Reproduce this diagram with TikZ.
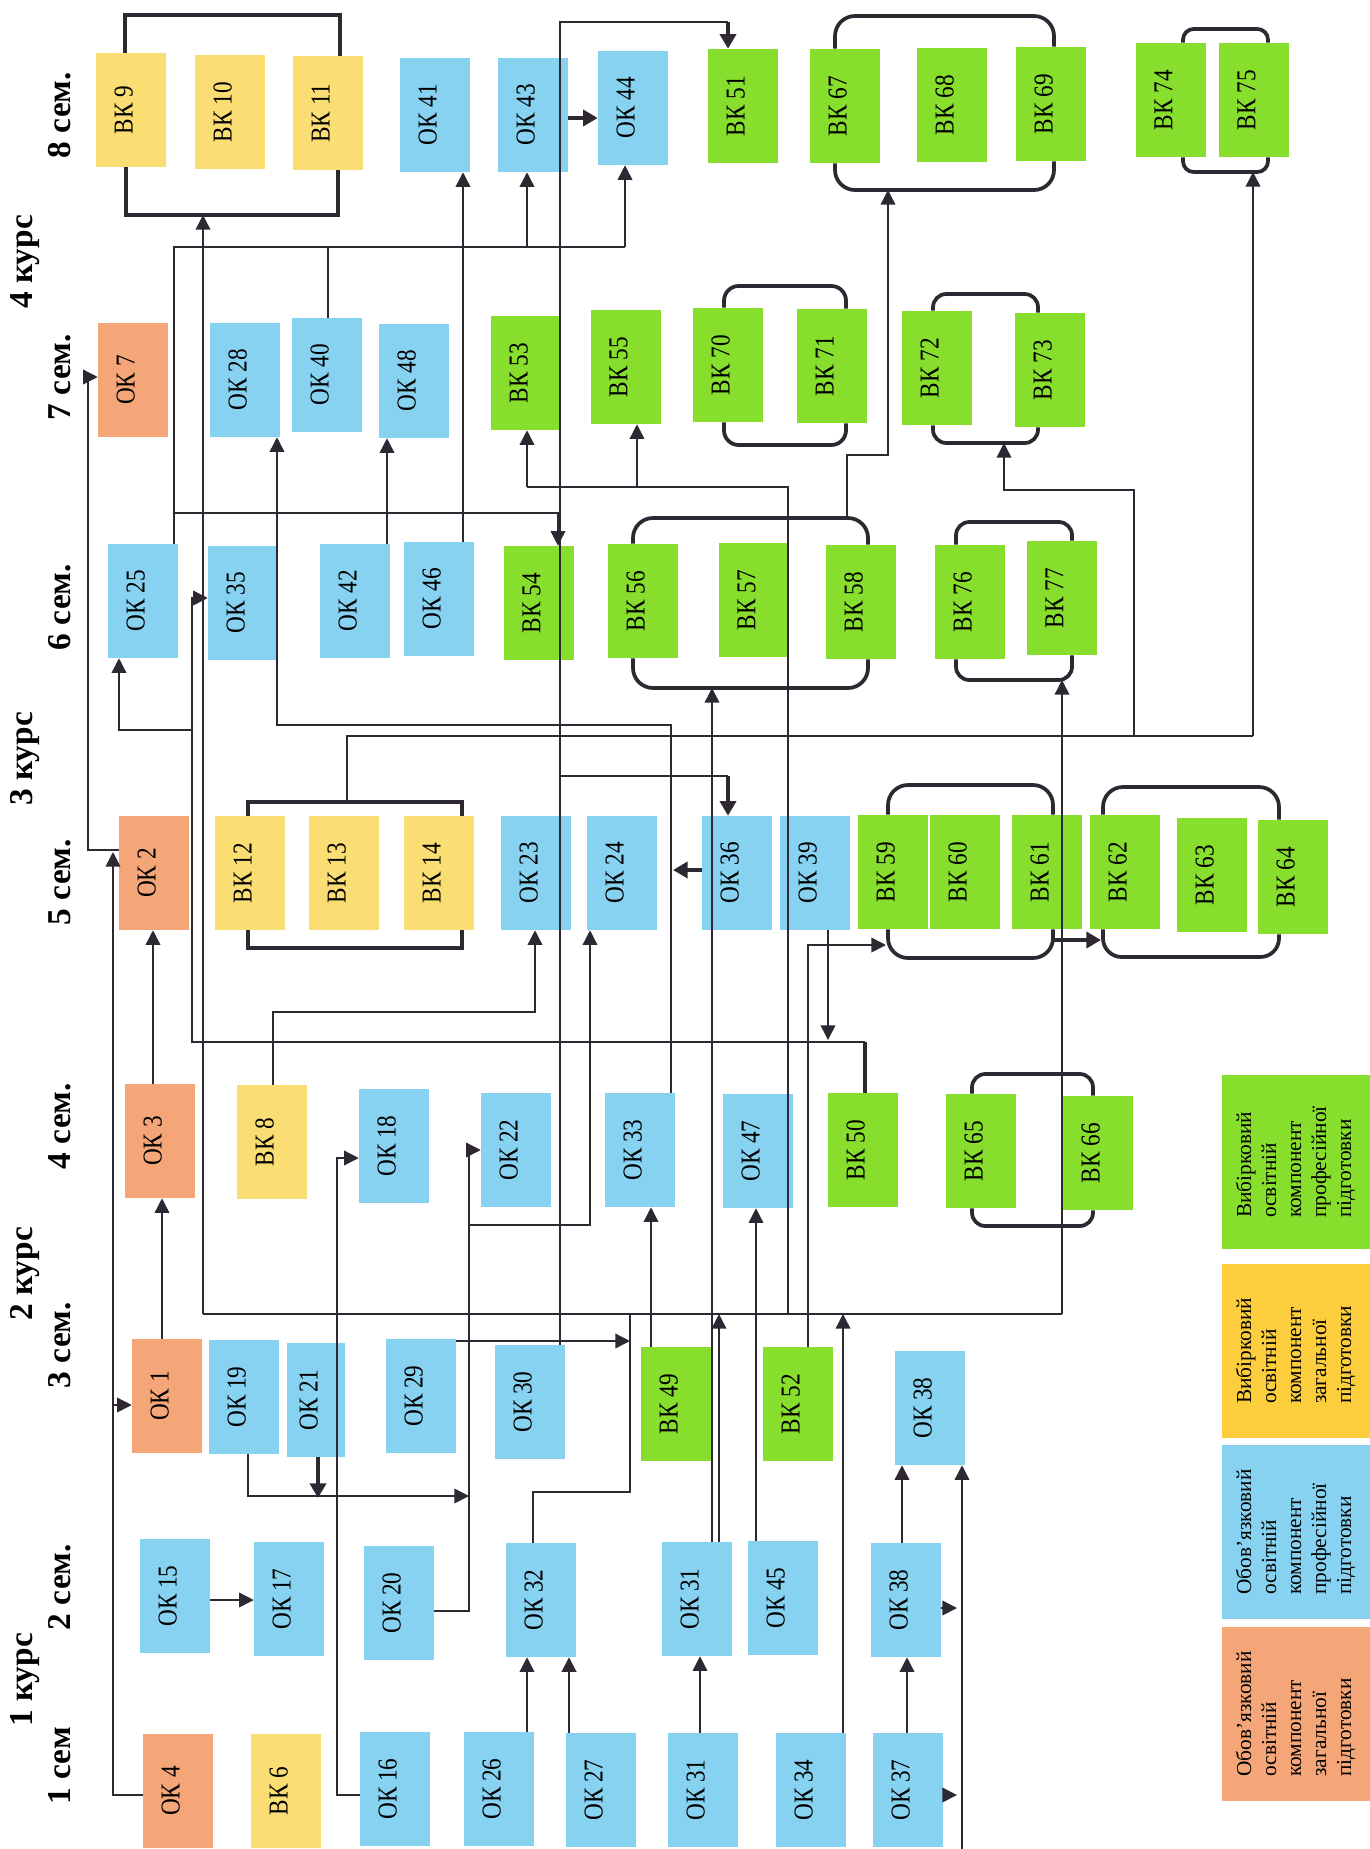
\documentclass[tikz,border=0pt]{standalone}
\usepackage{fontspec}
\setmainfont{Liberation Serif}
\newfontfamily\condfont[FakeStretch=0.85]{Liberation Serif}
\usetikzlibrary{arrows.meta}
\definecolor{cor}{RGB}{245,166,120}
\definecolor{cbl}{RGB}{135,210,240}
\definecolor{cye}{RGB}{250,222,115}
\definecolor{cgr}{RGB}{135,222,45}
\definecolor{cye2}{RGB}{252,205,60}
\definecolor{cln}{RGB}{45,40,50}
\tikzset{
 box/.style={inner sep=0pt, minimum width=52.5pt, minimum height=85.5pt, font=\condfont\fontsize{20.5}{20.5}\selectfont},
 ogz/.style={box, fill=cor},
 opz/.style={box, fill=cbl},
 vgz/.style={box, fill=cye},
 vpz/.style={box, fill=cgr},
 head/.style={font=\bfseries\fontsize{25}{25}\selectfont, inner sep=0pt},
 ln/.style={draw=cln, line width=1.1pt},
 arr/.style={ln, -{Triangle[length=11pt,width=11pt]}},
 tarr/.style={draw=cln, line width=3pt, -{Triangle[length=11pt,width=12pt]}},
 brk/.style={draw=cln, line width=2.8pt},
 leg/.style={inner sep=0pt, minimum width=111pt, minimum height=131pt, font=\fontsize{16}{18.75}\selectfont},
}
\newcommand\bx[5]{\node[#4] (#1) at (#2,#3) {\rotatebox{90}{\rule[-0.55em]{0pt}{0.55em}#5}};}
\newcommand\legtext[5]{\rotatebox{90}{\begin{tabular}{@{}l@{}}#1\\#2\\#3\\#4\\#5\end{tabular}}}
\begin{document}
\begin{tikzpicture}[x=0.75pt,y=-0.75pt]
\useasboundingbox (0,0) rectangle (1370,1849);
\fill[white] (0,0) rectangle (1370,1849);

% headings
\node[head] (h8) at (60,115) {\rotatebox{90}{8 сем.}};
\node[head] (k4) at (25,262) {\rotatebox{90}{4 курс}};
\node[head] (h7) at (60,377) {\rotatebox{90}{7 сем.}};
\node[head] (h6) at (60,607) {\rotatebox{90}{6 сем.}};
\node[head] (k3) at (25,759) {\rotatebox{90}{3 курс}};
\node[head] (h5) at (60,882) {\rotatebox{90}{5 сем.}};
\node[head] (h4) at (60,1126) {\rotatebox{90}{4 сем.}};
\node[head] (k2) at (25,1274) {\rotatebox{90}{2 курс}};
\node[head] (h3) at (60,1345) {\rotatebox{90}{3 сем.}};
\node[head] (h2) at (60,1587) {\rotatebox{90}{2 сем.}};
\node[head] (k1) at (25,1680) {\rotatebox{90}{1 курс}};
\node[head] (h1) at (60,1766) {\rotatebox{90}{1 сем}};

% row 8 sem
\bx{bk9}{131}{110}{vgz}{ВК 9}
\bx{bk10}{230}{112}{vgz}{ВК 10}
\bx{bk11}{328}{113}{vgz}{ВК 11}
\bx{ok41}{435}{115}{opz}{ОК 41}
\bx{ok43}{533}{115}{opz}{ОК 43}
\bx{ok44}{633}{108}{opz}{ОК 44}
\bx{bk51}{743}{106}{vpz}{ВК 51}
\bx{bk67}{845}{106}{vpz}{ВК 67}
\bx{bk68}{952}{105}{vpz}{ВК 68}
\bx{bk69}{1051}{104}{vpz}{ВК 69}
\bx{bk74}{1171}{100}{vpz}{ВК 74}
\bx{bk75}{1254}{100}{vpz}{ВК 75}
% row 7 sem
\bx{ok7}{133}{380}{ogz}{ОК 7}
\bx{ok28}{245}{380}{opz}{ОК 28}
\bx{ok40}{327}{375}{opz}{ОК 40}
\bx{ok48}{414}{381}{opz}{ОК 48}
\bx{bk53}{526}{373}{vpz}{ВК 53}
\bx{bk55}{626}{367}{vpz}{ВК 55}
\bx{bk70}{728}{365}{vpz}{ВК 70}
\bx{bk71}{832}{366}{vpz}{ВК 71}
\bx{bk72}{937}{368}{vpz}{ВК 72}
\bx{bk73}{1050}{370}{vpz}{ВК 73}
% row 6 sem
\bx{ok25}{143}{601}{opz}{ОК 25}
\bx{ok35}{243}{603}{opz}{ОК 35}
\bx{ok42}{355}{601}{opz}{ОК 42}
\bx{ok46}{439}{599}{opz}{ОК 46}
\bx{bk54}{539}{603}{vpz}{ВК 54}
\bx{bk56}{643}{601}{vpz}{ВК 56}
\bx{bk57}{754}{600}{vpz}{ВК 57}
\bx{bk58}{861}{602}{vpz}{ВК 58}
\bx{bk76}{970}{602}{vpz}{ВК 76}
\bx{bk77}{1062}{598}{vpz}{ВК 77}
% row 5 sem
\bx{ok2}{154}{873}{ogz}{ОК 2}
\bx{bk12}{250}{873}{vgz}{ВК 12}
\bx{bk13}{344}{873}{vgz}{ВК 13}
\bx{bk14}{439}{873}{vgz}{ВК 14}
\bx{ok23}{536}{873}{opz}{ОК 23}
\bx{ok24}{622}{873}{opz}{ОК 24}
\bx{ok36}{737}{873}{opz}{ОК 36}
\bx{ok39}{815}{873}{opz}{ОК 39}
\bx{bk59}{893}{872}{vpz}{ВК 59}
\bx{bk60}{965}{872}{vpz}{ВК 60}
\bx{bk61}{1047}{872}{vpz}{ВК 61}
\bx{bk62}{1125}{872}{vpz}{ВК 62}
\bx{bk63}{1212}{875}{vpz}{ВК 63}
\bx{bk64}{1293}{877}{vpz}{ВК 64}
% row 4 sem
\bx{ok3}{160}{1141}{ogz}{ОК 3}
\bx{bk8}{272}{1142}{vgz}{ВК 8}
\bx{ok18}{394}{1146}{opz}{ОК 18}
\bx{ok22}{516}{1150}{opz}{ОК 22}
\bx{ok33}{640}{1150}{opz}{ОК 33}
\bx{ok47}{758}{1151}{opz}{ОК 47}
\bx{bk50}{863}{1150}{vpz}{ВК 50}
\bx{bk65}{981}{1151}{vpz}{ВК 65}
\bx{bk66}{1098}{1153}{vpz}{ВК 66}
% row 3 sem
\bx{ok1}{167}{1396}{ogz}{ОК 1}
\bx{ok19}{244}{1397}{opz}{ОК 19}
\bx{ok21}{316}{1400}{opz,minimum width=44pt}{ОК 21}
\bx{ok29}{421}{1396}{opz}{ОК 29}
\bx{ok30}{530}{1402}{opz}{ОК 30}
\bx{bk49}{676}{1404}{vpz}{ВК 49}
\bx{bk52}{798}{1404}{vpz}{ВК 52}
\bx{ok38b}{930}{1408}{opz}{ОК 38}
% row 2 sem
\bx{ok15}{175}{1596}{opz}{ОК 15}
\bx{ok17}{289}{1599}{opz}{ОК 17}
\bx{ok20}{399}{1603}{opz}{ОК 20}
\bx{ok32}{541}{1600}{opz}{ОК 32}
\bx{ok31b}{697}{1599}{opz}{ОК 31}
\bx{ok45}{783}{1598}{opz}{ОК 45}
\bx{ok38a}{906}{1600}{opz}{ОК 38}
% row 1 sem
\bx{ok4}{178}{1791}{ogz}{ОК 4}
\bx{bk6}{286}{1791}{vgz}{ВК 6}
\bx{ok16}{395}{1789}{opz}{ОК 16}
\bx{ok26}{499}{1789}{opz}{ОК 26}
\bx{ok27}{601}{1790}{opz}{ОК 27}
\bx{ok31a}{703}{1790}{opz}{ОК 31}
\bx{ok34}{811}{1790}{opz}{ОК 34}
\bx{ok37}{908}{1790}{opz}{ОК 37}

% legend
\node[leg, fill=cgr] (lg1) at (1296,1162) {\legtext{Вибірковий}{освітній}{компонент}{професійної}{підготовки}};
\node[leg, fill=cye2] (lg2) at (1296,1351) {\legtext{Вибірковий}{освітній}{компонент}{загальної}{підготовки}};
\node[leg, fill=cbl] (lg3) at (1296,1532) {\legtext{Обов’язковий}{освітній}{компонент}{професійної}{підготовки}};
\node[leg, fill=cor] (lg4) at (1296,1714) {\legtext{Обов’язковий}{освітній}{компонент}{загальної}{підготовки}};

% brackets
\draw[brk] (bk9.north -| 125,0) -- (125,15) -- (340,15) -- (bk11.north -| 340,0);
\draw[brk] (bk9.south -| 126,0) -- (126,215) -- (338,215) -- (bk11.south -| 338,0);
\draw[brk] (bk12.north -| 248,0) -- (248,802) -- (462,802) -- (bk14.north -| 462,0);
\draw[brk] (bk12.south -| 248,0) -- (248,948) -- (462,948) -- (bk14.south -| 462,0);
\draw[brk, rounded corners=15pt] (bk67.north -| 835,0) -- (835,16) -- (1054,16) -- (bk69.north -| 1054,0);
\draw[brk, rounded corners=15pt] (bk67.south -| 835,0) -- (835,190) -- (1054,190) -- (bk69.south -| 1054,0);
\draw[brk, rounded corners=11pt] (bk70.north -| 724,0) -- (724,286) -- (846,286) -- (bk71.north -| 846,0);
\draw[brk, rounded corners=11pt] (bk70.south -| 724,0) -- (724,445) -- (846,445) -- (bk71.south -| 846,0);
\draw[brk, rounded corners=10pt] (bk72.north -| 933,0) -- (933,294) -- (1038,294) -- (bk73.north -| 1038,0);
\draw[brk, rounded corners=10pt] (bk72.south -| 933,0) -- (933,443) -- (1038,443) -- (bk73.south -| 1038,0);
\draw[brk, rounded corners=8pt] (bk74.north -| 1183,0) -- (1183,29) -- (1268,29) -- (bk75.north -| 1268,0);
\draw[brk, rounded corners=8pt] (bk74.south -| 1183,0) -- (1183,172) -- (1268,172) -- (bk75.south -| 1268,0);
\draw[brk, rounded corners=10pt] (bk76.north -| 956,0) -- (956,522) -- (1072,522) -- (bk77.north -| 1072,0);
\draw[brk, rounded corners=10pt] (bk76.south -| 956,0) -- (956,680) -- (1072,680) -- (bk77.south -| 1072,0);
\draw[brk, rounded corners=15pt] (bk56.north -| 633,0) -- (633,518) -- (868,518) -- (bk58.north -| 868,0);
\draw[brk, rounded corners=15pt] (bk56.south -| 633,0) -- (633,688) -- (868,688) -- (bk58.south -| 868,0);
\draw[brk, rounded corners=15pt] (bk59.north -| 888,0) -- (888,785) -- (1053,785) -- (bk61.north -| 1053,0);
\draw[brk, rounded corners=15pt] (bk59.south -| 888,0) -- (888,958) -- (1053,958) -- (bk61.south -| 1053,0);
\draw[brk, rounded corners=15pt] (bk62.north -| 1103,0) -- (1103,787) -- (1279,787) -- (bk64.north -| 1279,0);
\draw[brk, rounded corners=14pt] (bk62.south -| 1103,0) -- (1103,957) -- (1279,957) -- (bk64.south -| 1279,0);
\draw[brk, rounded corners=10pt] (bk65.north -| 972,0) -- (972,1074) -- (1093,1074) -- (bk66.north -| 1093,0);
\draw[brk, rounded corners=10pt] (bk65.south -| 972,0) -- (972,1226) -- (1093,1226) -- (bk66.south -| 1093,0);

% connectors
\draw[arr] (ok2.west |- 0,850) -- (88,850) -- (88,377) -- (ok7.west |- 0,377);
\draw[arr] (ok4.west |- 0,1795) -- (113,1795) -- (113,852);
\draw[arr] (113,1405) -- (ok1.west |- 0,1405);
\draw[arr] (ok1.north -| 162,0) -- (ok3.south -| 162,0);
\draw[arr] (ok3.north -| 153,0) -- (ok2.south -| 153,0);
\draw[ln] (ok25.north -| 174,0) -- (174,247) -- (625,247);
\draw[ln] (ok40.north -| 328,0) -- (328,247);
\draw[arr] (527,247) -- (ok43.south -| 527,0);
\draw[arr] (625,247) -- (ok44.south -| 625,0);
\draw[arr] (174,513) -- (558,513) -- (bk54.north -| 558,0);
\draw[arr] (ok46.north -| 463,0) -- (ok41.south -| 463,0);
\draw[arr] (ok42.north -| 387,0) -- (ok48.south -| 387,0);
\draw[tarr] (ok43.east |- 0,118) -- (ok44.west |- 0,118);
\draw[ln] (ok30.north -| 560,0) -- (560,22) -- (728,22);
\draw[tarr] (728,22) -- (bk51.north -| 728,0);
\draw[ln] (560,776) -- (728,776);
\draw[tarr] (728,776) -- (ok36.north -| 728,0);
\draw[arr] (847,518) -- (847,455) -- (888,455) -- (888,190);
\draw[arr] (ok31b.north -| 712,0) -- (712,688);
\draw[ln] (347,802) -- (347,736) -- (1253,736);
\draw[arr] (1253,736) -- (1253,172);
\draw[arr] (1134,736) -- (1134,490) -- (1004,490) -- (1004,443);
\draw[arr] (ok33.north -| 671,0) -- (671,725) -- (277,725) -- (ok28.south -| 277,0);
\draw[tarr] (ok36.west |- 0,870) -- (673,870);
\draw[draw=cln, line width=3pt] (bk50.north -| 865,0) -- (865,1042);
\draw[arr] (865,1042) -- (192,1042) -- (192,598) -- (ok35.west |- 0,598);
\draw[arr] (192,730) -- (119,730) -- (ok25.south -| 119,0);
\draw[arr] (ok39.south -| 828,0) -- (828,1040);
\draw[arr] (bk52.north -| 808,0) -- (808,945) -- (886,945);
\draw[tarr] (1053,940) -- (1101,940);
\draw[arr] (bk8.north -| 273,0) -- (273,1012) -- (535,1012) -- (ok23.south -| 535,0);
\draw[arr] (ok20.east |- 0,1611) -- (469,1611) -- (469,1150) -- (ok22.west |- 0,1150);
\draw[arr] (469,1225) -- (590,1225) -- (ok24.south -| 590,0);
\draw[arr] (ok19.south -| 248,0) -- (248,1496) -- (469,1496);
\draw[tarr] (ok21.south -| 318,0) -- (318,1498);
\draw[arr] (ok15.east |- 0,1600) -- (ok17.west |- 0,1600);
\draw[arr] (ok16.west |- 0,1795) -- (337,1795) -- (337,1158) -- (ok18.west |- 0,1158);
\draw[arr] (bk49.north -| 651,0) -- (ok33.south -| 651,0);
\draw[arr] (ok45.north -| 756,0) -- (ok47.south -| 756,0);
\draw[arr] (ok26.north -| 527,0) -- (ok32.south -| 527,0);
\draw[arr, line width=1.6pt] (ok27.north -| 569,0) -- (ok32.south -| 569,0);
\draw[arr] (ok31a.north -| 700,0) -- (ok31b.south -| 700,0);
\draw[arr] (ok37.north -| 907,0) -- (ok38a.south -| 907,0);
\draw[arr] (ok38a.north -| 902,0) -- (ok38b.south -| 902,0);
\coordinate (bot) at (962,1849);
\draw[arr] (bot) -- (ok38b.south -| 962,0);
\draw[arr] (ok38a.east |- 0,1608) -- (957,1608);
\draw[arr] (ok37.east |- 0,1795) -- (957,1795);
% hub
\draw[ln] (203,1314) -- (1062,1314);
\draw[arr] (203,1314) -- (203,215);
\draw[arr] (ok29.east |- 0,1341) -- (630,1341);
\draw[ln] (ok32.north -| 533,0) -- (533,1492) -- (630,1492) -- (630,1314);
\draw[arr] (ok31b.north -| 719,0) -- (719,1314);
\draw[arr] (ok34.north -| 843,0) -- (843,1314);
\draw[ln] (788,1314) -- (788,487) -- (527,487);
\draw[arr] (527,487) -- (bk53.south -| 527,0);
\draw[arr] (637,487) -- (bk55.south -| 637,0);
\draw[arr] (1062,1314) -- (1062,680);
\end{tikzpicture}
\end{document}
